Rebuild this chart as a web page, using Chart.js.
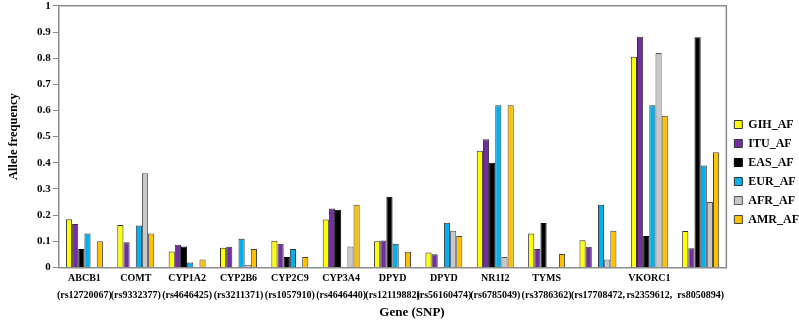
<!DOCTYPE html>
<html>
<head>
<meta charset="utf-8">
<script src="https://cdn.jsdelivr.net/npm/chart.js@4.4.1/dist/chart.umd.min.js"></script>
<style>
html,body{margin:0;padding:0;background:#fff;}
#wrap{width:799px;height:335px;position:relative;}
</style>
</head>
<body>
<div id="wrap"><canvas id="c" width="799" height="335"></canvas></div>
<script>
const genes = ["ABCB1","COMT","CYP1A2","CYP2B6","CYP2C9","CYP3A4","DPYD","DPYD","NR1I2","TYMS","","VKORC1",""];
const snps = ["(rs12720067)","(rs9332377)","(rs4646425)","(rs3211371)","(rs1057910)","(rs4646440)","(rs12119882)","(rs56160474)","(rs6785049)","(rs3786362)","(rs17708472,","rs2359612,","rs8050894)"];
const seriesNames = ["GIH_AF","ITU_AF","EAS_AF","EUR_AF","AFR_AF","AMR_AF"];
const GIH_AF = [0.184,0.162,0.061,0.075,0.102,0.183,0.100,0.057,0.446,0.130,0.104,0.805,0.139];
const ITU_AF = [0.166,0.096,0.087,0.079,0.090,0.225,0.103,0.050,0.490,0.070,0.079,0.882,0.073];
const EAS_AF = [0.070,0.000,0.080,0.000,0.040,0.220,0.270,0.000,0.400,0.170,0.000,0.120,0.880];
const EUR_AF = [0.130,0.160,0.019,0.110,0.070,0.000,0.090,0.171,0.620,0.000,0.240,0.620,0.390];
const AFR_AF = [0.000,0.360,0.000,0.010,0.000,0.080,0.000,0.140,0.040,0.000,0.030,0.820,0.250];
const AMR_AF = [0.100,0.130,0.030,0.070,0.040,0.240,0.060,0.120,0.620,0.051,0.140,0.580,0.440];
const yTicks = [0,0.1,0.2,0.3,0.4,0.5,0.6,0.7,0.8,0.9,1];

const fills = ["#FFFF00","#7030A0","#000000","#00B0F0","#C8C8C8","#FFC000"];
const borders = ["#333333","#333333","#000000","#333333","#555555","#444444"];
const seriesData = [GIH_AF,ITU_AF,EAS_AF,EUR_AF,AFR_AF,AMR_AF];

const labels = genes.map((g,i)=>[g, snps[i]]);
const datasets = seriesNames.map((n,i)=>({
  label:n, data:seriesData[i], backgroundColor:fills[i], borderColor:borders[i],
  borderWidth:1, categoryPercentage:0.72, barPercentage:1.0
}));

const frame = {
  id:'frame',
  afterLayout(chart){
    const lg = chart.legend;
    if (lg){ lg.left += 1; lg.right += 1; lg.top += 12; lg.bottom += 12; }
    const t = chart.titleBlock;
    if (t){ t.left += 7; t.right += 7; }
  },
  afterDraw(chart){
    const a = chart.chartArea, ctx = chart.ctx;
    ctx.save();
    ctx.strokeStyle = '#8c8c8c';
    ctx.lineWidth = 1.5;
    ctx.beginPath();
    ctx.moveTo(a.left, a.top);
    ctx.lineTo(a.right, a.top);
    ctx.lineTo(a.right, a.bottom);
    ctx.stroke();
    ctx.restore();
  }
};

const serif = "'Liberation Serif','Times New Roman',serif";
new Chart(document.getElementById('c'), {
  type:'bar',
  data:{labels, datasets},
  options:{
    responsive:false, animation:false,
    layout:{padding:{top:0,left:2,right:-9,bottom:15}},
    plugins:{
      legend:{position:'right', align:'center',
        labels:{boxWidth:8, boxHeight:8, padding:7, color:'#000',
          font:{family:serif, size:12, weight:'bold'}}},
      title:{display:true, position:'bottom', text:'Gene (SNP)', color:'#000',
        padding:{top:-2,bottom:0}, font:{family:serif, size:13, weight:'bold'}},
      tooltip:{enabled:false}
    },
    scales:{
      x:{
        grid:{display:false, drawTicks:false},
        border:{display:true, color:'#8c8c8c', width:1.5},
        ticks:{color:'#000', maxRotation:0, autoSkip:false, padding:2.5,
          font:{family:serif, size:10, weight:'bold', lineHeight:1.7}}
      },
      y:{
        min:0, max:1,
        afterBuildTicks(s){ s.ticks = yTicks.map(v=>({value:v})); },
        grid:{display:true, drawOnChartArea:false, drawTicks:true, tickLength:6, color:'#8c8c8c'},
        border:{display:true, color:'#8c8c8c', width:1.5},
        ticks:{color:'#000', padding:2, font:{family:serif, size:11, weight:'bold', lineHeight:0.7},
          callback:(v)=>String(Math.round(v*10)/10)},
        title:{display:true, text:'Allele frequency', color:'#000', padding:{top:4,bottom:14},
          font:{family:serif, size:12.5, weight:'bold'}}
      }
    }
  },
  plugins:[frame]
});
</script>
</body>
</html>
